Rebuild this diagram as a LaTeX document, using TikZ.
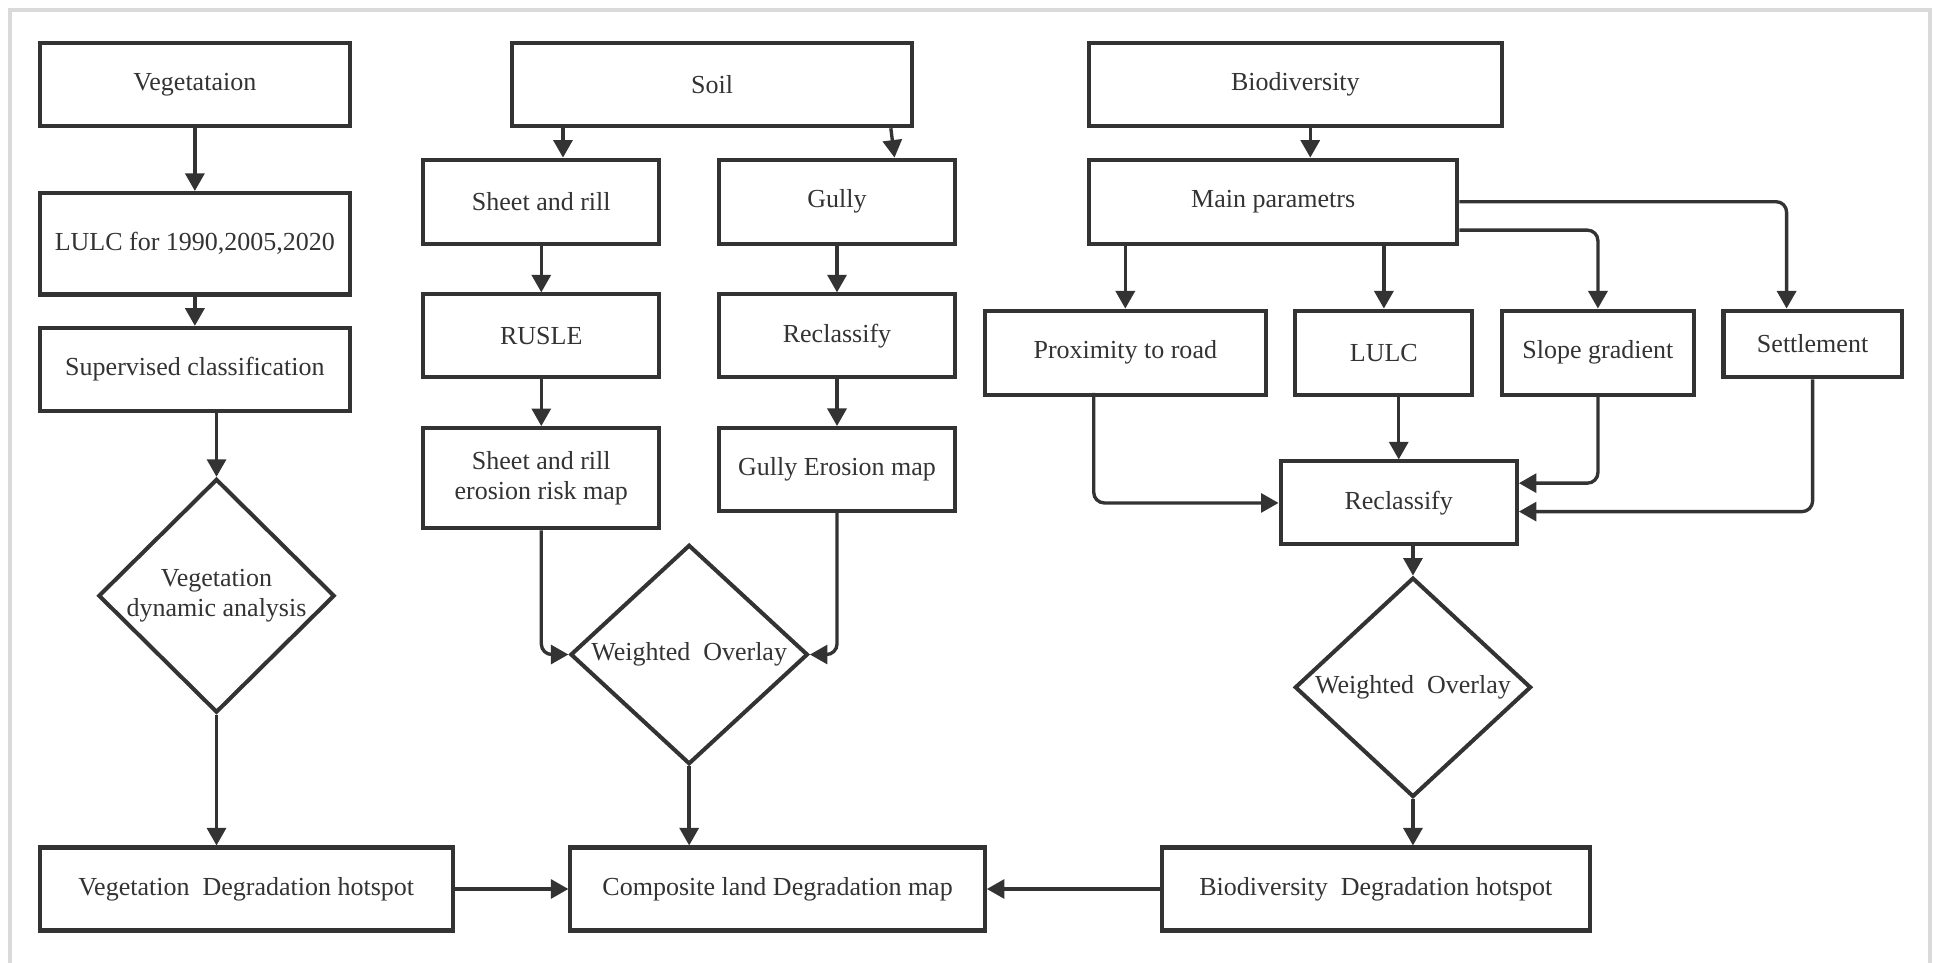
\documentclass[tikz,border=0pt]{standalone}
\usepackage{fontspec}
\setmainfont{Liberation Serif}
\usepackage{tikz}
\usetikzlibrary{arrows.meta,positioning,shapes.geometric,calc}
\definecolor{inkGray}{RGB}{51,51,51}
\definecolor{frameGray}{RGB}{218,218,218}
\tikzset{
  box/.style={rectangle, draw=inkGray, line width=1.15pt, fill=white,
              minimum width=#1, minimum height=0.83cm, inner sep=1pt,
              text=inkGray, align=center},
  box/.default=2.363cm,
  dec/.style={diamond, aspect=1, draw=inkGray, line width=1.15pt, fill=white,
              inner sep=0pt, text=inkGray, align=center},
  arr/.style={-{Triangle[length=5pt,width=5.4pt]}, line width=0.95pt,
              draw=inkGray, rounded corners=3pt},
}
\begin{document}
\begin{tikzpicture}[x=0.012372cm, y=-0.012372cm,
    every node/.style={font=\fontsize{7.4}{8.5}\selectfont}]
        \useasboundingbox (0,0) rectangle (1568,778);
        \fill[white] (0,0) rectangle (1568,778);
        \draw[frameGray, line width=1pt] (8,778) -- (8,8) -- (1560,8) -- (1560,778);

        \node[box=3.105cm] (veg) at (157.5,68.5) {Vegetataion};
        \node[box=3.105cm, minimum height=1.015cm] (lulc) at (157.5,197) {LULC for 1990,2005,2020};
        \node[box=3.105cm] (sup) at (157.5,298.5) {Supervised classification};
        \node[dec, minimum width=2.363cm, minimum height=2.338cm] (vda) at (175,481.5)
              {Vegetation\\dynamic analysis};
        \node[box=4.132cm] (vdh) at (199,718.5) {Vegetation\ \ Degradation hotspot};

        \node[box=3.996cm] (soil) at (575.5,68.5) {Soil};
        \node[box, minimum height=0.841cm] (sheet) at (437.5,163) {Sheet and rill};
        \node[box, minimum height=0.841cm] (gully) at (676.5,163) {Gully};
        \node[box] (rusle) at (437.5,271.5) {RUSLE};
        \node[box] (reclA) at (676.5,271.5) {Reclassify};
        \node[box, minimum height=1.002cm] (sre) at (437.5,386.5) {Sheet and rill\\erosion risk map};
        \node[box] (gem) at (676.5,379.5) {Gully Erosion map};
        \node[dec, minimum width=2.375cm, minimum height=2.177cm] (woA) at (557,529)
              {Weighted\ \ Overlay};
        \node[box=4.145cm] (comp) at (628.5,718.5) {Composite land Degradation map};

        \node[box=4.132cm] (bio) at (1047,68.5) {Biodiversity};
        \node[box=3.687cm, minimum height=0.841cm] (main) at (1029,163) {Main parametrs};
        \node[box=2.808cm, minimum height=0.841cm] (prox) at (909.5,285) {Proximity to road};
        \node[box=1.769cm, minimum height=0.841cm] (lulcB) at (1118.5,285) {LULC};
        \node[box=1.918cm, minimum height=0.841cm] (slope) at (1291.5,285) {Slope gradient};
        \node[box=1.782cm, minimum height=0.668cm] (settle) at (1465,278) {Settlement};
        \node[box] (reclB) at (1130.5,406.5) {Reclassify};
        \node[dec, minimum width=2.363cm, minimum height=2.165cm] (woB) at (1142,555.5)
              {Weighted\ \ Overlay};
        \node[box=4.281cm] (bdh) at (1112,718.5) {Biodiversity\ \ Degradation hotspot};

        \draw[arr] (veg) -- (lulc);
        \draw[arr] (lulc) -- (sup);
        \draw[arr] (sup.south -| vda.north) -- (vda.north);
        \draw[arr] (vda.south) -- (vda.south |- vdh.north);
        \draw[arr] (vdh) -- (comp);

        \coordinate (s1) at ($(soil.south)+(-120.5,0)$);
        \draw[arr] (s1) -- (s1 |- sheet.north);
        \draw[arr] ($(soil.south)+(144.5,0)$) -- ($(gully.north)+(46.5,0)$);
        \draw[arr] (sheet) -- (rusle);
        \draw[arr] (rusle) -- (sre);
        \draw[arr] (gully) -- (reclA);
        \draw[arr] (reclA) -- (gem);
        \draw[arr] (sre.south) |- (woA.west);
        \draw[arr] (gem.south) |- (woA.east);
        \draw[arr] (woA.south) -- (woA.south |- comp.north);

        \coordinate (b1) at ($(bio.south)+(12,0)$);
        \draw[arr] (b1) -- (b1 |- main.north);
        \draw[arr] (main.south -| prox.north) -- (prox.north);
        \draw[arr] (main.south -| lulcB.north) -- (lulcB.north);
        \draw[arr] ($(main.east)+(0,23)$) -| (slope.north);
        \draw[arr] (main.east) -| ($(settle.north)+(-21,0)$);
        \draw[arr] ($(prox.south)+(-25.5,-3)$) |- (reclB.west);
        \draw[arr] (lulcB.south -| reclB.north) -- (reclB.north);
        \draw[arr] (slope.south) |- ($(reclB.east)+(0,-16)$);
        \draw[arr] (settle.south) |- ($(reclB.east)+(0,7)$);
        \draw[arr] (reclB.south -| woB.north) -- (woB.north);
        \draw[arr] (woB.south) -- (woB.south |- bdh.north);
        \draw[arr] (bdh) -- (comp);
      \end{tikzpicture}
\end{document}
